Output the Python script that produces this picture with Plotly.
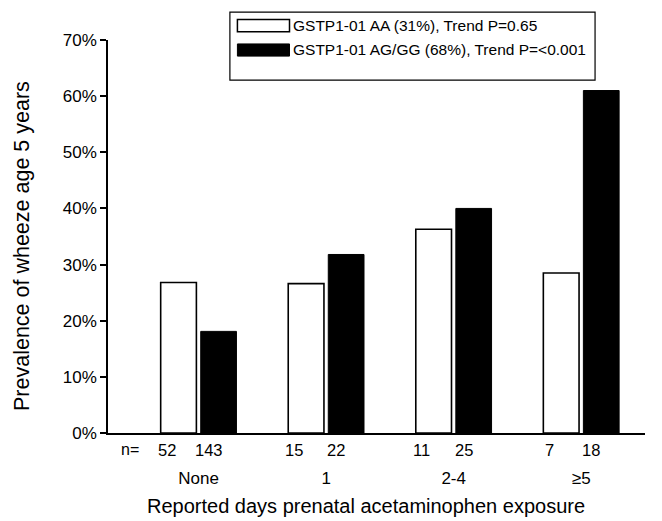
import plotly.graph_objects as go

categories = ["None", "1", "2-4", "≥5"]
aa_values = [26.8, 26.6, 36.3, 28.5]
ag_values = [18.1, 31.8, 40.0, 61.0]
aa_n = [52, 15, 11, 7]
ag_n = [143, 22, 25, 18]
aa_label = "GSTP1-01 AA (31%), Trend P=0.65"
ag_label = "GSTP1-01 AG/GG (68%), Trend P=<0.001"
x_title = "Reported days prenatal acetaminophen exposure"
y_title = "Prevalence of wheeze age 5 years"
y_ticks = [0, 10, 20, 30, 40, 50, 60, 70]
y_ticktext = [f"{v}%" for v in y_ticks]

FONT = "Liberation Sans, Arial, sans-serif"
xpos = list(range(len(categories)))
W = 0.28

fig = go.Figure()
fig.add_trace(go.Bar(x=xpos, y=aa_values, width=W, offset=-0.297,
                     marker=dict(color="white", line=dict(color="black", width=1.6)),
                     name=aa_label, showlegend=False))
fig.add_trace(go.Bar(x=xpos, y=ag_values, width=W, offset=0.017,
                     marker=dict(color="black", line=dict(color="black", width=1)),
                     name=ag_label, showlegend=False))

NY = -0.042
ann = []
ann.append(dict(x=-0.54, y=NY, xref="x", yref="paper", text="n=", showarrow=False,
                yanchor="middle", font=dict(size=16, family=FONT, color="black")))
for i in xpos:
    ann.append(dict(x=i - 0.25, y=NY, xref="x", yref="paper", text=str(aa_n[i]), showarrow=False,
                    yanchor="middle", font=dict(size=16.5, family=FONT, color="black")))
    ann.append(dict(x=i + 0.08, y=NY, xref="x", yref="paper", text=str(ag_n[i]), showarrow=False,
                    yanchor="middle", font=dict(size=16.5, family=FONT, color="black")))

shapes = [
    dict(type="rect", xref="paper", yref="paper", x0=0.227, x1=0.907, y0=0.898, y1=1.071,
         line=dict(color="black", width=1.2), fillcolor="white", layer="above"),
    dict(type="rect", xref="paper", yref="paper", x0=0.241, x1=0.338, y0=1.021, y1=1.052,
         line=dict(color="black", width=1.5), fillcolor="white", layer="above"),
    dict(type="rect", xref="paper", yref="paper", x0=0.241, x1=0.338, y0=0.959, y1=0.990,
         line=dict(color="black", width=1), fillcolor="black", layer="above"),
]
ann.append(dict(x=0.340, y=1.037, xref="paper", yref="paper", text=aa_label, showarrow=False,
                xanchor="left", yanchor="middle", font=dict(size=15.5, family=FONT, color="black")))
ann.append(dict(x=0.340, y=0.975, xref="paper", yref="paper", text=ag_label, showarrow=False,
                xanchor="left", yanchor="middle", font=dict(size=15.5, family=FONT, color="black")))
# axis titles
ann.append(dict(x=0.480, y=-0.186, xref="paper", yref="paper", text=x_title, showarrow=False,
                xanchor="center", yanchor="middle", font=dict(size=20, family=FONT, color="black")))
ann.append(dict(x=-0.160, y=0.476, xref="paper", yref="paper", text=y_title, showarrow=False,
                textangle=-90, xanchor="center", yanchor="middle",
                font=dict(size=21.5, family=FONT, color="black")))

fig.update_layout(
    width=654, height=513,
    margin=dict(l=100, r=17, t=32, b=88),
    plot_bgcolor="white", paper_bgcolor="white",
    font=dict(family=FONT, size=15, color="black"),
    shapes=shapes, annotations=ann,
    xaxis=dict(range=[-0.71, 3.5], tickvals=xpos, ticktext=categories,
               showline=True, linecolor="black", linewidth=1.5, ticks="",
               showgrid=False, zeroline=False, ticklabelstandoff=29,
               tickfont=dict(size=17, family=FONT)),
    yaxis=dict(range=[0, 70], tickvals=y_ticks, ticktext=y_ticktext,
               showline=True, linecolor="black", linewidth=1.5, ticks="outside",
               ticklen=6, tickwidth=1.5, tickcolor="black",
               showgrid=False, zeroline=False, tickfont=dict(size=17, family=FONT)),
)

fig.write_html("out.html")
